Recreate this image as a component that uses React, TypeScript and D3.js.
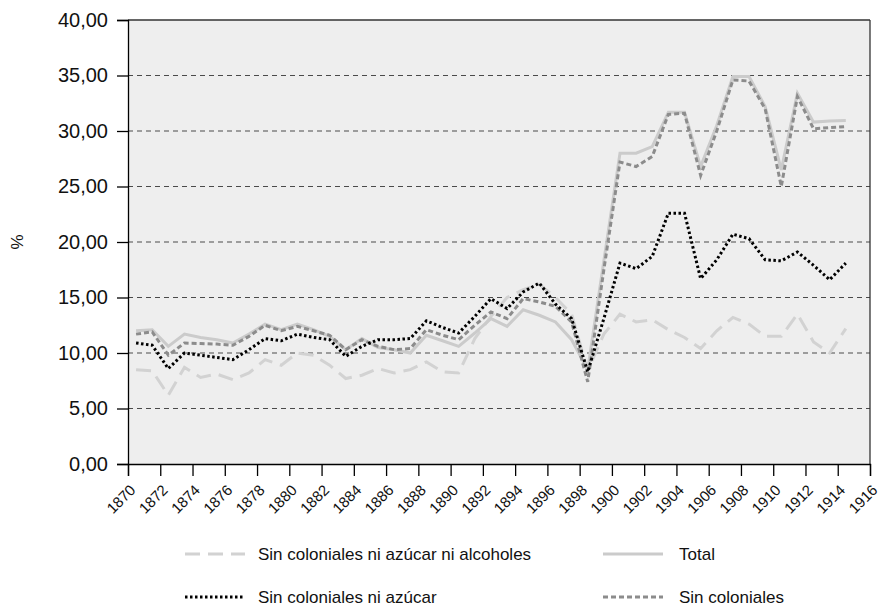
import React, { useEffect, useRef } from 'react';
import * as d3 from 'd3';

const years = d3.range(1870, 1915);

const total = [12.0, 12.1, 10.6, 11.7, 11.4, 11.2, 10.9, 11.7, 12.6, 12.1,
  12.6, 12.1, 11.5, 10.3, 11.3, 10.5, 10.3, 10.0, 11.6, 11.1,
  10.6, 11.8, 13.1, 12.4, 13.9, 13.4, 12.8, 11.2, 8.5, 18.3,
  28.0, 28.0, 28.6, 31.7, 31.7, 26.8, 30.5, 34.9, 34.9, 32.2,
  26.5, 33.4, 30.8, 30.9, 30.95];

const sinColoniales = [11.7, 11.9, 9.8, 10.9, 10.85, 10.8, 10.7, 11.5, 12.5, 12.0,
  12.4, 12.0, 11.6, 10.3, 11.2, 10.6, 10.3, 10.4, 12.1, 11.6,
  11.2, 12.5, 13.7, 13.1, 14.9, 14.6, 14.2, 12.8, 7.4, 17.5,
  27.2, 26.8, 27.7, 31.5, 31.6, 26.0, 30.0, 34.6, 34.5, 32.0,
  25.0, 33.1, 30.2, 30.3, 30.4];

const sinColNiAzucar = [10.9, 10.7, 8.6, 10.0, 9.8, 9.6, 9.4, 10.3, 11.3, 11.1,
  11.7, 11.4, 11.2, 9.7, 10.6, 11.2, 11.2, 11.3, 12.9, 12.3,
  11.8, 13.3, 14.9, 14.0, 15.5, 16.3, 14.4, 13.1, 8.3, 13.1,
  18.1, 17.6, 18.7, 22.6, 22.6, 16.7, 18.4, 20.7, 20.3, 18.4,
  18.3, 19.1, 17.9, 16.6, 18.1];

const sinColNiAzucarNiAlcoholes = [8.5, 8.4, 6.2, 8.7, 7.8, 8.1, 7.6, 8.2, 9.4, 8.9,
  10.0, 9.8, 8.9, 7.7, 8.0, 8.6, 8.2, 8.5, 9.2, 8.3,
  8.2, 11.3, 13.3, 15.0, 15.7, 16.2, 15.0, 13.5, 8.4, 11.7,
  13.5, 12.8, 13.0, 12.1, 11.4, 10.4, 12.0, 13.2, 12.6, 11.5,
  11.5, 13.5, 11.0, 10.0, 12.2];

const xTicks = d3.range(1870, 1917, 2);
const yTicks = d3.range(0, 41, 5);

const series = [
  { name: 'Sin coloniales ni azúcar ni alcoholes', values: sinColNiAzucarNiAlcoholes, color: '#d2d2d2', dash: '15,8', width: 3 },
  { name: 'Total', values: total, color: '#cbcbcb', dash: null, width: 3 },
  { name: 'Sin coloniales', values: sinColoniales, color: '#8c8c8c', dash: '5,3', width: 3 },
  { name: 'Sin coloniales ni azúcar', values: sinColNiAzucar, color: '#000000', dash: '2.5,2.5', width: 3 },
];

const FONT = 'Liberation Sans, Arial, sans-serif';

export default function App() {
  const svgRef = useRef(null);

  useEffect(() => {
    const width = 881;
    const height = 607;
    const margin = { top: 20, right: 11, bottom: 143, left: 128 };
    const innerWidth = width - margin.left - margin.right;
    const innerHeight = height - margin.top - margin.bottom;

    const svg = d3.select(svgRef.current);
    svg.selectAll('*').remove();
    const g = svg.append('g').attr('transform', `translate(${margin.left},${margin.top})`);

    const x = d3.scaleLinear().domain([1870, 1916]).range([0, innerWidth]);
    const y = d3.scaleLinear().domain([0, 40]).range([innerHeight, 0]);
    const fmt = (v) => d3.format('.2f')(v).replace('.', ',');

    g.append('rect').attr('width', innerWidth).attr('height', innerHeight).attr('fill', '#eeeeee');

    // grid
    g.selectAll('.grid')
      .data(yTicks.filter(t => t > 0 && t < 40))
      .enter().append('line')
      .attr('x1', 0).attr('x2', innerWidth)
      .attr('y1', d => y(d)).attr('y2', d => y(d))
      .attr('stroke', '#4a4a4a').attr('stroke-width', 1.2).attr('stroke-dasharray', '5,4');

    // top + right border
    g.append('line').attr('x1', 0).attr('x2', innerWidth).attr('y1', 0).attr('y2', 0)
      .attr('stroke', '#333').attr('stroke-width', 1.3);
    g.append('line').attr('x1', innerWidth).attr('x2', innerWidth).attr('y1', 0).attr('y2', innerHeight)
      .attr('stroke', '#333').attr('stroke-width', 1.3);

    const line = d3.line().x(d => x(d.year + 0.5)).y(d => y(d.value));

    series.forEach(s => {
      const pts = years.map((yr, i) => ({ year: yr, value: s.values[i] }));
      const p = g.append('path').datum(pts)
        .attr('d', line)
        .attr('fill', 'none')
        .attr('stroke', s.color)
        .attr('stroke-width', s.width)
        .attr('stroke-linejoin', 'miter');
      if (s.dash) p.attr('stroke-dasharray', s.dash);
    });

    // y axis
    const yAxis = g.append('g').call(d3.axisLeft(y).tickValues(yTicks).tickSize(11).tickFormat(fmt));
    yAxis.select('.domain').attr('stroke', '#000').attr('stroke-width', 1.3);
    yAxis.selectAll('.tick line').attr('stroke', '#000').attr('stroke-width', 1.3);
    yAxis.selectAll('.tick text')
      .attr('x', -20)
      .attr('font-family', FONT)
      .attr('font-size', 20).attr('fill', '#111');

    // x axis
    const xAxis = g.append('g').attr('transform', `translate(0,${innerHeight})`)
      .call(d3.axisBottom(x).tickValues(xTicks).tickSize(12).tickFormat(d3.format('d')));
    xAxis.select('.domain').attr('stroke', '#000').attr('stroke-width', 1.3);
    xAxis.selectAll('.tick line').attr('stroke', '#000').attr('stroke-width', 1.3);
    xAxis.selectAll('.tick text')
      .attr('font-family', FONT)
      .attr('font-size', 15).attr('fill', '#111')
      .attr('dy', null).attr('y', 0)
      .attr('transform', 'translate(8,27) rotate(-45)')
      .style('text-anchor', 'end');

    // y title
    svg.append('text')
      .attr('transform', 'translate(23,242) rotate(-90)')
      .attr('text-anchor', 'middle')
      .attr('font-family', FONT)
      .attr('font-size', 17).attr('fill', '#111')
      .text('%');

    // legend
    const legendItems = [
      { s: series[0], lx: 185, ly: 554 },
      { s: series[1], lx: 603, ly: 554 },
      { s: series[3], lx: 185, ly: 597 },
      { s: series[2], lx: 603, ly: 597 },
    ];
    const legend = svg.append('g');
    legendItems.forEach(({ s, lx, ly }) => {
      const l = legend.append('line')
        .attr('x1', lx).attr('x2', lx + 60).attr('y1', ly).attr('y2', ly)
        .attr('stroke', s.color).attr('stroke-width', s.width);
      if (s.dash) l.attr('stroke-dasharray', s.dash);
      legend.append('text')
        .attr('x', lx + (lx > 400 ? 76 : 73)).attr('y', ly)
        .attr('dominant-baseline', 'central')
        .attr('font-family', FONT)
        .attr('font-size', 17).attr('fill', '#111')
        .text(s.name);
    });
  }, []);

  return (
    <svg ref={svgRef} width={881} height={607}
      style={{ position: 'absolute', left: 0, top: 0, background: '#fff' }} />
  );
}
